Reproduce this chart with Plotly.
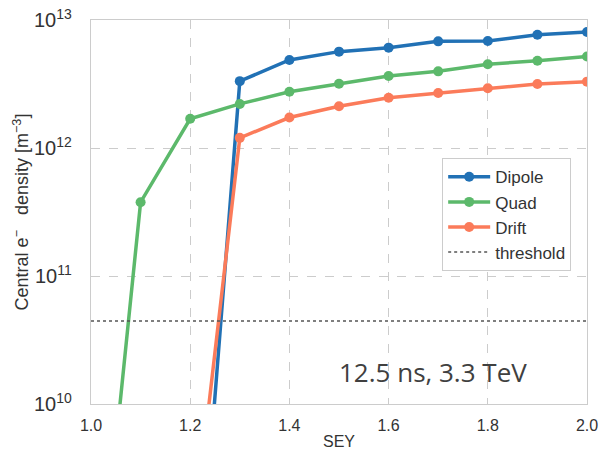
import plotly.graph_objects as go

# SEY values
sey_dipole = [1.2, 1.3, 1.4, 1.5, 1.6, 1.7, 1.8, 1.9, 2.0]
dipole = [4e7, 3.33e12, 4.87e12, 5.66e12, 6.08e12, 6.81e12, 6.85e12, 7.68e12, 8.06e12]

sey_quad = [1.0, 1.1, 1.2, 1.3, 1.4, 1.5, 1.6, 1.7, 1.8, 1.9, 2.0]
quad = [6e7, 3.77e11, 1.69e12, 2.21e12, 2.75e12, 3.18e12, 3.65e12, 3.97e12, 4.51e12, 4.81e12, 5.18e12]

sey_drift = [1.2, 1.3, 1.4, 1.5, 1.6, 1.7, 1.8, 1.9, 2.0]
drift = [5.4e8, 1.2e12, 1.73e12, 2.12e12, 2.47e12, 2.69e12, 2.93e12, 3.16e12, 3.3e12]

sey_threshold = [1.0, 2.0]
threshold = [4.45e10, 4.45e10]

x_ticks = [1.0, 1.2, 1.4, 1.6, 1.8, 2.0]
x_tick_labels = ["1.0", "1.2", "1.4", "1.6", "1.8", "2.0"]

FONT = "Liberation Sans, Arial"
TXT = "#333333"
NB = "\u00a0"

fig = go.Figure()
series = [
    ("Dipole", sey_dipole, dipole, "#2171b5"),
    ("Quad", sey_quad, quad, "#5cb96b"),
    ("Drift", sey_drift, drift, "#fb7b5a"),
]
for name, xs, ys, col in series:
    fig.add_trace(go.Scatter(
        x=xs, y=ys, name=name, mode="lines+markers",
        line=dict(color=col, width=3.5),
        marker=dict(color=col, size=10),
    ))
fig.add_trace(go.Scatter(
    x=sey_threshold, y=threshold, name="threshold", mode="lines",
    line=dict(color="#555555", width=1.5, dash="dot"),
))

fig.add_annotation(
    x=1.69, y=10.25, xref="x", yref="y", text="12.5 ns, 3.3 TeV",
    showarrow=False, font=dict(family="Open Sans", size=26, color="#404040"),
)

axis_common = dict(
    showline=True, linecolor="#cccccc", linewidth=1, mirror=True,
    showgrid=True, gridcolor="#cccccc", griddash="dash", gridwidth=1,
    zeroline=False, ticks="outside", tickcolor="rgba(0,0,0,0)",
    tickfont=dict(family=FONT, size=16, color=TXT),
    automargin=False, ticklabeloverflow="allow",
)

fig.update_xaxes(
    range=[1.0, 2.0], tickvals=x_ticks, ticktext=x_tick_labels, ticklen=7,
    title=dict(text="SEY", standoff=2, font=dict(family=FONT, size=16, color=TXT)),
    **axis_common,
)
fig.update_yaxes(
    type="log", range=[10, 13], dtick=1, exponentformat="power", ticklen=15,
    title=dict(text=f"Central e<sup>−</sup>{NB}{NB}{NB}density [m<sup>−3</sup>]", standoff=0,
               font=dict(family=FONT, size=18, color=TXT)),
    **axis_common,
)

fig.update_layout(
    width=599, height=454,
    margin=dict(l=91, r=12, t=20, b=50),
    plot_bgcolor="white", paper_bgcolor="white",
    showlegend=True,
    legend=dict(
        x=0.708, y=0.64, xanchor="left", yanchor="top",
        bordercolor="#cccccc", borderwidth=1, bgcolor="white",
        font=dict(family=FONT, size=17, color=TXT),
        tracegroupgap=2, itemwidth=42,
    ),
)

fig.write_html("out.html", post_script="document.body.style.margin='0';",
               config={"displayModeBar": False})
